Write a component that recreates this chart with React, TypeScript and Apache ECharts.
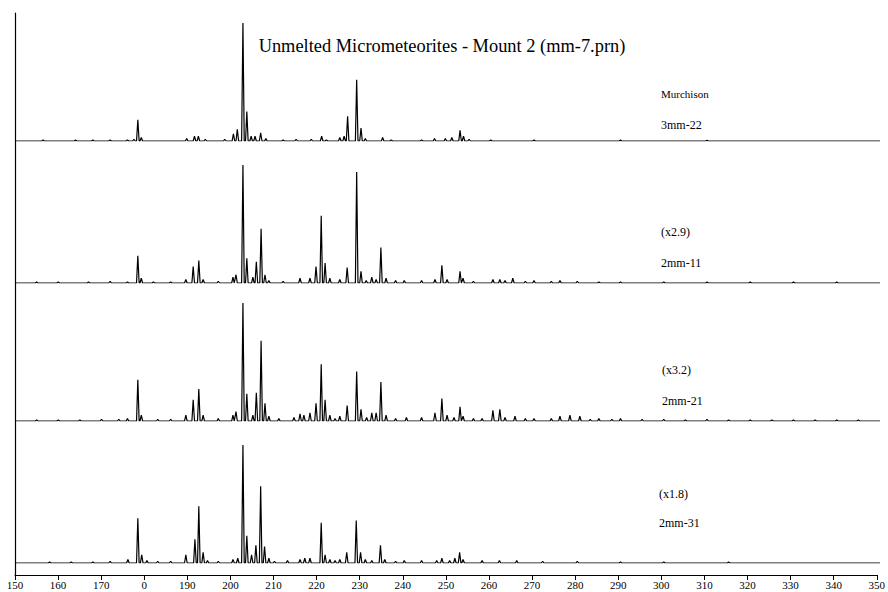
import React, { useEffect, useRef } from "react";
import * as echarts from "echarts";

// ---------- data ----------
const X_MIN = 150;
const X_MAX = 350;
const X_STEP = 10;
const tickLabels = [
  "150", "160", "170", "0", "190", "200", "210", "220", "230", "240", "250",
  "260", "270", "280", "290", "300", "310", "320", "330", "340", "350",
];
const chartTitle = "Unmelted Micrometeorites - Mount 2 (mm-7.prn)";
const sampleNames = ["3mm-22", "2mm-11", "2mm-21", "2mm-31"];
const scaleNotes = ["Murchison", "(x2.9)", "(x3.2)", "(x1.8)"];

// [m/z, relative intensity %]
const peaks3mm22: [number, number][] = [
  [156.5, 1], [164, 0.8], [168, 0.8], [172, 1], [176, 1], [177.5, 1.5],
  [178.4, 18], [179.2, 3], [189.7, 2], [191.5, 4], [192.4, 4], [194, 1.5],
  [198.5, 1.5], [200.5, 6], [201.4, 10], [202.7, 100], [203.6, 25], [204.6, 4],
  [205.5, 4], [206.8, 7], [208, 2], [212, 1], [215, 1.5], [218.5, 1.5],
  [220.9, 4], [222, 1], [225.1, 3], [226.1, 4], [226.9, 21], [229.0, 52],
  [230.0, 11], [231, 2], [235, 3], [237, 1], [244, 1], [247, 2], [249.5, 2],
  [251, 3], [252.9, 9], [253.7, 4], [255, 1.5], [260, 0.8], [270, 0.8],
  [290, 0.8], [310, 0.6],
];
const peaks2mm11: [number, number][] = [
  [155, 0.8], [160, 1], [167, 1], [172, 1.5], [176, 1], [178.4, 23], [179.2, 4],
  [182, 1], [186, 1], [189.5, 3], [191.2, 14], [192.5, 19], [193.5, 3],
  [197, 1.5], [200.4, 5], [201.1, 7], [202.7, 100], [203.6, 21], [205.0, 5],
  [205.8, 18], [206.9, 46], [207.8, 7], [208.7, 2], [212, 1.5], [215.9, 4],
  [218.2, 4], [219.6, 14], [220.8, 57], [221.7, 17], [222.8, 4], [225.1, 3],
  [226.8, 13], [229.0, 94], [230.0, 10], [231.2, 2], [232.5, 5], [233.5, 3],
  [234.6, 30], [235.8, 4], [238, 2], [240, 2], [244, 2], [247.1, 3],
  [248.7, 15], [249.9, 3], [252.9, 10], [253.6, 4], [256, 1.5], [260.5, 3],
  [262.1, 3], [263.3, 2], [265.1, 4], [268, 1.5], [270, 2], [274, 1.5],
  [276, 2], [280, 1.5], [285, 1], [290, 1], [300, 1], [310, 0.8], [320, 0.8],
  [330, 0.8], [340, 0.8],
];
const peaks2mm21: [number, number][] = [
  [155, 1], [160, 1], [165, 1], [170, 1.5], [174, 1.5], [176, 2], [178.4, 35],
  [179.2, 5], [183, 1.5], [186, 1.5], [189.5, 5], [191.2, 18], [192.5, 27],
  [193.5, 5], [197, 2], [200.4, 5], [201.1, 8], [202.7, 100], [203.6, 23],
  [205.0, 5], [205.8, 24], [206.9, 68], [207.8, 15], [208.7, 4], [211, 2],
  [214.5, 3], [215.9, 6], [216.8, 5], [218.2, 7], [219.6, 15], [220.8, 48],
  [221.7, 18], [222.8, 5], [224, 2], [225.1, 4], [226.8, 13], [229.0, 42],
  [230.0, 10], [231.3, 3], [232.5, 7], [233.5, 7], [234.6, 33], [235.8, 5],
  [238, 2], [240.5, 3], [244, 3], [247.1, 7], [248.7, 19], [249.9, 5],
  [251.5, 3], [252.9, 12], [253.6, 4], [256, 2], [258, 2], [260.5, 9],
  [262.1, 10], [263.3, 3], [265.6, 4], [268, 2], [270, 2], [274, 2], [276, 4],
  [278.3, 5], [280.6, 4], [283, 1.5], [285, 2], [288, 1.5], [290, 2],
  [295, 1.5], [300, 1.5], [305, 1], [310, 1.5], [315, 1], [320, 1],
  [325, 1], [330, 1], [335, 1], [340, 1], [345, 1],
];
const peaks2mm31: [number, number][] = [
  [158, 0.8], [163, 1], [168, 1], [172, 1.5], [176.1, 3], [178.4, 38],
  [179.3, 7], [180.5, 2], [183, 1.5], [186, 1.5], [189.5, 7], [191.6, 20],
  [192.5, 48], [193.5, 9], [194.5, 2], [197, 1.5], [200.4, 3], [201.5, 4],
  [202.7, 100], [203.6, 23], [204.7, 7], [205.7, 15], [206.8, 65],
  [207.7, 14], [208.7, 4], [210, 1.5], [213, 2], [215.9, 3], [217, 4],
  [218.2, 4], [220.8, 34], [221.7, 7], [222.8, 3], [224, 2], [225.1, 3],
  [226.7, 9], [228.9, 36], [229.9, 9], [231, 3], [232.5, 2], [234.5, 15],
  [235.5, 3], [238, 1.5], [240, 2], [244, 2], [247.5, 2], [248.7, 4],
  [250.5, 2], [251.7, 4], [252.8, 9], [253.6, 3], [258, 2], [262, 2],
  [266, 2], [272, 1.5], [280, 1.5], [290, 1], [300, 1], [315, 0.8],
];
const spectra = [peaks3mm22, peaks2mm11, peaks2mm21, peaks2mm31];

// ---------- layout ----------
const PLOT_LEFT = 15;
const PLOT_RIGHT = 8;
const PANEL_BASELINES = [141, 283, 421, 563];
const PANEL_HEIGHT = 118;
const AXIS_Y = 575;
const LABEL_POS = [
  { x: 661, y1: 94, y2: 125 },
  { x: 661, y1: 232, y2: 263 },
  { x: 662, y1: 370, y2: 401 },
  { x: 659, y1: 494, y2: 523 },
];
const SERIF = "'Liberation Serif', 'DejaVu Serif', serif";

function buildLine(peaks: [number, number][]): [number, number][] {
  const sorted = [...peaks].sort((a, b) => a[0] - b[0]);
  const w = 0.3;
  const out: [number, number][] = [[X_MIN, 0]];
  for (const [m, h] of sorted) {
    out.push([m - w, 0], [m, h], [m + w, 0]);
  }
  out.push([X_MAX, 0]);
  return out;
}

export default function App() {
  const ref = useRef<HTMLDivElement>(null);
  useEffect(() => {
    if (!ref.current) return;
    const chart = echarts.init(ref.current, undefined, { renderer: "svg" });

    const grids: any[] = [];
    const xAxes: any[] = [];
    const yAxes: any[] = [];
    const series: any[] = [];

    PANEL_BASELINES.forEach((b, i) => {
      grids.push({
        left: PLOT_LEFT,
        right: PLOT_RIGHT,
        top: b - PANEL_HEIGHT,
        height: PANEL_HEIGHT,
      });
      xAxes.push({ gridIndex: i, type: "value", min: X_MIN, max: X_MAX, show: false });
      yAxes.push({ gridIndex: i, type: "value", min: 0, max: 100, show: false });
      series.push({
        type: "line",
        xAxisIndex: i,
        yAxisIndex: i,
        data: buildLine(spectra[i]),
        showSymbol: false,
        symbol: "none",
        lineStyle: { color: "#000", width: 1.2 },
        silent: true,
      });
    });

    // frame grid: bottom axis + left line
    const fi = PANEL_BASELINES.length;
    grids.push({ left: PLOT_LEFT, right: PLOT_RIGHT, top: 13, bottom: 592 - AXIS_Y });
    xAxes.push({
      gridIndex: fi,
      type: "value",
      min: X_MIN,
      max: X_MAX,
      interval: X_STEP,
      axisLine: { show: true, lineStyle: { color: "#000", width: 1.2 } },
      axisTick: { show: true, inside: false, length: 5, lineStyle: { color: "#000" } },
      splitLine: { show: false },
      axisLabel: {
        color: "#000",
        fontFamily: SERIF,
        fontSize: 11,
        margin: 4,
        formatter: (v: number) => tickLabels[Math.round((v - X_MIN) / X_STEP)] ?? "",
      },
    });
    yAxes.push({
      gridIndex: fi,
      type: "value",
      min: 0,
      max: 1,
      axisLine: { show: true, lineStyle: { color: "#000", width: 1.2 } },
      axisTick: { show: false },
      axisLabel: { show: false },
      splitLine: { show: false },
    });
    series.push({ type: "line", xAxisIndex: fi, yAxisIndex: fi, data: [], silent: true });

    const graphics: any[] = [
      {
        type: "text",
        x: 442,
        y: 46,
        style: {
          text: chartTitle,
          font: `18.4px ${SERIF}`,
          fill: "#000",
          textAlign: "center",
          textVerticalAlign: "middle",
        },
      },
    ];
    LABEL_POS.forEach((p, i) => {
      graphics.push({
        type: "text",
        x: p.x,
        y: p.y1,
        style: {
          text: scaleNotes[i],
          font: `${i === 0 ? 11 : 12}px ${SERIF}`,
          fill: "#000",
          textVerticalAlign: "middle",
        },
      });
      graphics.push({
        type: "text",
        x: p.x,
        y: p.y2,
        style: {
          text: sampleNames[i],
          font: `12px ${SERIF}`,
          fill: "#000",
          textVerticalAlign: "middle",
        },
      });
    });

    chart.setOption({
      animation: false,
      backgroundColor: "#fff",
      grid: grids,
      xAxis: xAxes,
      yAxis: yAxes,
      series,
      graphic: graphics,
    });
    return () => chart.dispose();
  }, []);

  return (
    <div
      ref={ref}
      style={{ position: "fixed", left: 0, top: 0, width: 888, height: 592 }}
    />
  );
}
